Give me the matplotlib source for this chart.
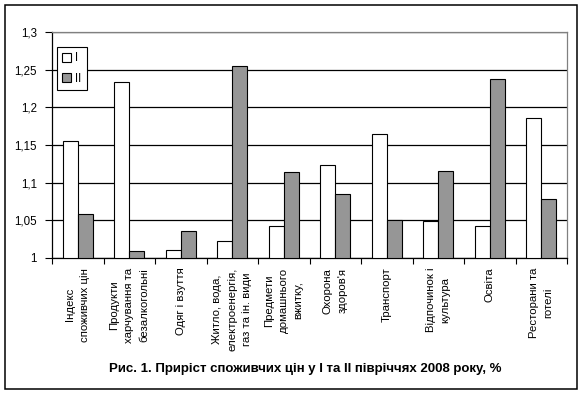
"""
Приріст споживчих цін у I та II півріччях 2008 року (grouped bar chart, Excel style)
"""

import matplotlib
matplotlib.use('Agg')
from matplotlib import pyplot as plt
from matplotlib.patches import Rectangle
import numpy as np

plt.rcParams['font.family'] = ['Liberation Sans', 'DejaVu Sans']

# data
categories = ['Індекс\nспоживчих цін',
              'Продукти\nхарчування та\nбезалкогольні',
              'Одяг і взуття',
              'Житло, вода,\nелектроенергія,\nгаз та ін. види',
              'Предмети\nдомашнього\nвжитку,',
              'Охорона\nздоров\'я',
              'Транспорт',
              'Відпочинок і\nкультура',
              'Освіта',
              'Ресторани та\nготелі']
half_1 = [1.155, 1.233, 1.011, 1.022, 1.042, 1.123, 1.164, 1.049, 1.043, 1.186]
half_2 = [1.058, 1.009, 1.036, 1.255, 1.114, 1.085, 1.051, 1.116, 1.237, 1.078]
series_names = ['I', 'II']
y_ticks = [1.0, 1.05, 1.1, 1.15, 1.2, 1.25, 1.3]
y_labels = ['1', '1,05', '1,1', '1,15', '1,2', '1,25', '1,3']
title = 'Рис. 1. Приріст споживчих цін у I та II півріччях 2008 року, %'

fig = plt.figure(figsize=(5.85, 3.95), dpi=100)
ax = fig.add_axes([52/585, 1 - 258/395, 515/585, 226/395])

x = np.arange(len(categories))
w = 0.29
base = 1.0
ax.bar(x - w/2, np.array(half_1) - base, w, bottom=base, color='white',
       edgecolor='black', linewidth=0.8, label=series_names[0], zorder=3)
ax.bar(x + w/2, np.array(half_2) - base, w, bottom=base, color='#969696',
       edgecolor='black', linewidth=0.8, label=series_names[1], zorder=3)

ax.set_xlim(-0.5, len(categories) - 0.5)
ax.set_ylim(1.0, 1.3)
ax.set_yticks(y_ticks)
ax.set_yticklabels(y_labels, fontsize=8.3)
ax.set_xticks(x)
ax.set_xticklabels(categories, rotation=90, fontsize=8.2, ha='center',
                   va='top', multialignment='center', linespacing=1.6)
ax.set_xticks(np.arange(len(categories) + 1) - 0.5, minor=True)
ax.tick_params(axis='x', which='major', length=0, pad=7)
ax.tick_params(axis='x', which='minor', length=4, width=0.8, direction='out')
ax.tick_params(axis='y', length=5, width=0.8, pad=6)

# gridlines and Excel-like plot area border
ax.set_axisbelow(True)
ax.yaxis.grid(True, color='black', linewidth=0.9)
ax.spines['top'].set_color('#808080')
ax.spines['right'].set_color('#808080')
ax.spines['left'].set_color('black')
ax.spines['bottom'].set_color('black')
for s in ax.spines.values():
    s.set_linewidth(0.9)

leg = ax.legend(loc='upper left', bbox_to_anchor=(0.0097, 0.934),
                borderaxespad=0, fontsize=8.3, handlelength=0.8,
                handleheight=0.8, handletextpad=0.35, borderpad=0.45,
                labelspacing=0.75, fancybox=False, framealpha=1)
leg.get_frame().set_edgecolor('black')
leg.get_frame().set_linewidth(0.8)

fig.text(0.522, 1 - 369/395, title, fontsize=9.5, fontweight='bold',
         ha='center', va='center')

# outer frame around the whole chart
fig.patches.append(Rectangle((5/585, 1 - 389/395), 572/585, 384/395,
                             transform=fig.transFigure, fill=False,
                             edgecolor='black', linewidth=1.1))

fig.savefig('out.png', dpi=100)
